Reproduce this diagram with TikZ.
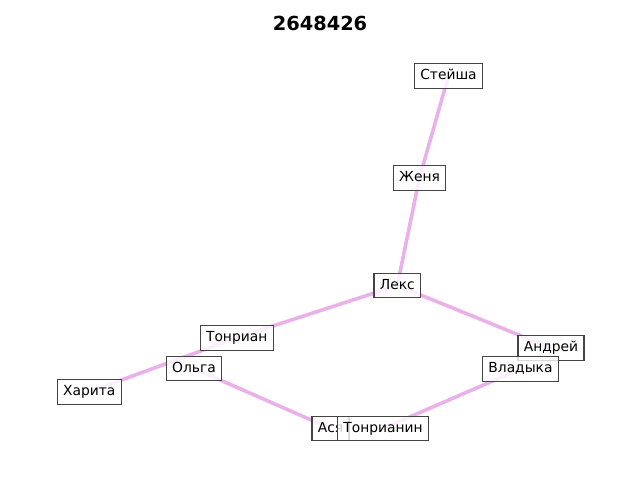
\documentclass[tikz,border=0pt]{standalone}
\usepackage{fontspec}
\setmainfont{DejaVu Sans}
\definecolor{edgecol}{RGB}{234,176,234}
\definecolor{boxline}{RGB}{68,68,68}
\tikzset{
  person/.style={draw=boxline, line width=0.8pt, fill=white, fill opacity=0.8, text opacity=1,
    inner xsep=4.2pt, inner ysep=4pt, text height=7.6pt, text depth=2.2pt, font=\fontsize{10pt}{12pt}\selectfont},
  link/.style={draw=edgecol, line width=2.6pt}
}
\begin{document}
\begin{tikzpicture}[x=0.01in, y=-0.01in]
\useasboundingbox (0,0) rectangle (640,480);
\node[font=\bfseries\fontsize{14pt}{16pt}\selectfont] (title) at (320,23) {2648426};
\coordinate (cS) at (448.5,75.8);
\coordinate (cZ) at (419.5,177.8);
\coordinate (cL) at (397.3,285.5);
\coordinate (cT) at (236.7,337.8);
\coordinate (cO) at (194,368.5);
\coordinate (cH) at (89.3,391.8);
\coordinate (cA) at (551,348);
\coordinate (cV) at (520.5,369);
\coordinate (cAs) at (330.5,428.5);
\coordinate (cTn) at (383,428.5);
\draw[link] (cS) -- (cZ);
\draw[link] (cZ) -- (cL);
\draw[link] (cL) -- (cT);
\draw[link] (cT) -- (cH);
\draw[link] (cL) -- (cA);
\draw[link] (cO) -- (cAs);
\draw[link] (cTn) -- (cV);
\node[person] (S) at (cS) {Стейша};
\node[person] (Z) at (cZ) {Женя};
\node[person] (L) at (cL) {Лекс};
\node[person] (T) at (cT) {Тонриан};
\node[person] (O) at (cO) {Ольга};
\node[person] (H) at (cH) {Харита};
\node[person] (A) at (cA) {Андрей};
\node[person] (V) at (cV) {Владыка};
\node[person] (As) at (cAs) {Ася};
\node[person] (Tn) at (cTn) {Тонрианин};
\end{tikzpicture}
\end{document}
